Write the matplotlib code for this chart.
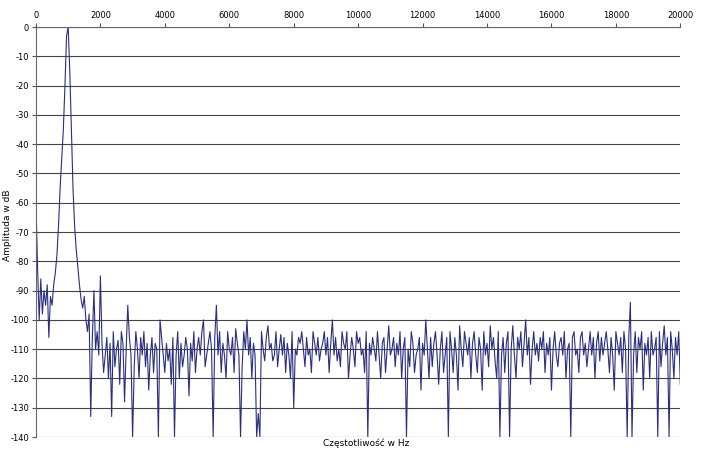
import numpy as np
import matplotlib.pyplot as plt

plt.rcParams['axes.unicode_minus'] = False

peak_db = [-60, -82, -100, -86, -98, -90, -95, -88, -106, -92, -95, -88, -84, -78, -68,
           -55, -45, -35, -20, -3, 0, -15, -35, -55, -68, -76, -82, -88, -93, -96, -92]

noise_db = [
    -100, -104, -98, -133, -106, -90, -110, -104, -112, -85,
    -108, -118, -112, -106, -120, -108, -133, -104, -116, -110,
    -107, -122, -104, -108, -128, -110, -95, -106, -112, -140,
    -116, -104, -110, -120, -106, -112, -104, -116, -108, -124,
    -112, -106, -118, -108, -110, -140, -100, -106, -112, -118,
    -108, -114, -110, -122, -106, -140, -112, -104, -120, -108,
    -116, -112, -106, -110, -126, -108, -114, -104, -118, -110,
    -106, -112, -104, -100, -116, -112, -108, -104, -110, -140,
    -106, -95, -112, -104, -118, -108, -112, -120, -104, -110,
    -112, -106, -118, -103, -108, -112, -140, -116, -104, -110,
    -100, -112, -106, -120, -108, -112, -140, -132, -140, -104,
    -110, -114, -106, -102, -110, -108, -114, -112, -104, -116,
    -110, -105, -112, -106, -118, -108, -112, -120, -104, -130,
    -110, -112, -106, -108, -104, -110, -116, -106, -112, -110,
    -118, -104, -108, -112, -106, -114, -110, -108, -104, -112,
    -106, -118, -108, -100, -112, -106, -114, -110, -116, -104,
    -108, -110, -104, -120, -112, -106, -110, -116, -104, -108,
    -106, -112, -110, -118, -104, -140, -108, -112, -106, -110,
    -114, -104, -112, -120, -108, -106, -118, -110, -102, -112,
    -110, -106, -116, -108, -112, -104, -120, -110, -106, -140,
    -110, -116, -104, -108, -118, -112, -110, -106, -124, -108,
    -112, -100, -110, -120, -106, -116, -108, -104, -112, -122,
    -110, -104, -118, -112, -106, -140, -104, -110, -118, -106,
    -112, -124, -102, -110, -116, -104, -108, -112, -106, -120,
    -108, -104, -112, -118, -106, -110, -124, -104, -112, -108,
    -116, -102, -110, -106, -114, -120, -104, -140, -112, -106,
    -118, -108, -104, -140, -110, -102, -112, -120, -106, -110,
    -104, -116, -108, -100, -112, -106, -122, -110, -104, -112,
    -108, -114, -106, -110, -104, -118, -108, -112, -106, -124,
    -110, -104, -112, -116, -108, -106, -112, -104, -120, -110,
    -108, -140, -106, -104, -112, -110, -118, -106, -104, -112,
    -108, -116, -110, -104, -112, -106, -120, -108, -104, -114,
    -106, -112, -108, -104, -110, -118, -106, -112, -124, -104,
    -108, -112, -106, -118, -104, -110, -140, -106, -94, -140,
    -112, -104, -118, -106, -110, -104, -124, -108, -112, -106,
    -120, -104, -112, -110, -106, -140, -104, -116, -108, -102,
    -112, -106, -140, -104, -110, -120, -106, -112, -104, -122,
]

amp = np.array(peak_db + noise_db)
freq = np.arange(len(amp)) * 50

fig = plt.figure(figsize=(7.05, 4.51), dpi=100)
ax = fig.add_axes([0.051, 0.031, 0.914, 0.909])
ax.plot(freq, amp, color='#2b2f80', linewidth=0.8)

ax.set_xlim(0, 20000)
ax.set_ylim(-140, 0)
ax.set_xticks(np.arange(0, 20001, 2000))
ax.set_yticks(np.arange(-140, 1, 10))
ax.xaxis.tick_top()
ax.tick_params(labelsize=6, length=3, pad=2, color='#555555')
ax.yaxis.grid(True, color='#444444', linewidth=0.8)
for s in ['right', 'bottom']:
    ax.spines[s].set_visible(False)
ax.spines['top'].set_color('#666666')
ax.spines['left'].set_color('#666666')

fig.text(0.52, 0.012, 'Częstotliwość w Hz', ha='center', fontsize=6.5)
fig.text(0.004, 0.5, 'Amplituda w dB', va='center', rotation=90, fontsize=6.5)

fig.savefig('out.png', dpi=100)
